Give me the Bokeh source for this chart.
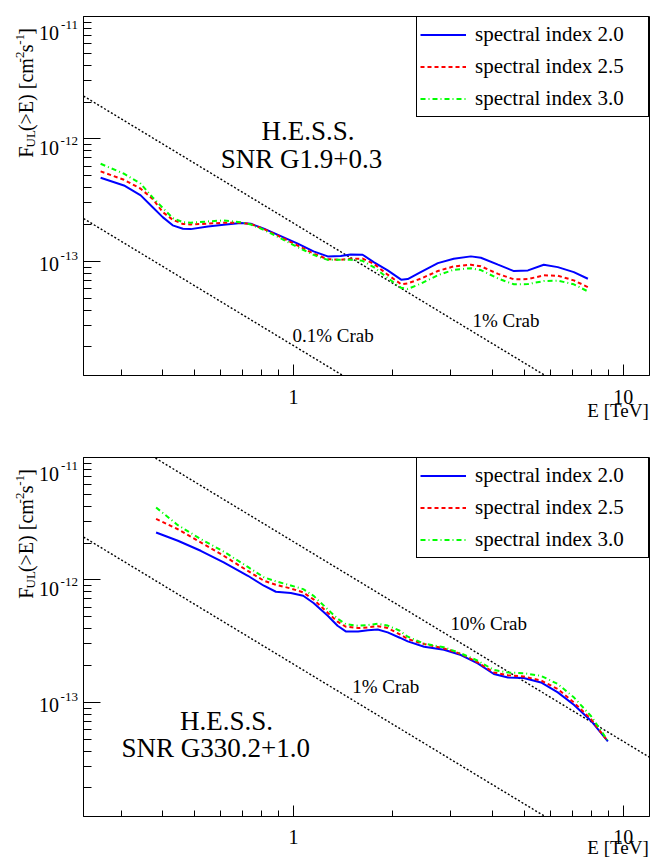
import math
from bokeh.plotting import figure
from bokeh.models import Label, Legend, LegendItem, FixedTicker, CustomJSTickFormatter, Range1d
from bokeh.layouts import column, row
from bokeh.embed import file_html
from bokeh.resources import INLINE

# ---------------- data ----------------
# Panel 1: SNR G1.9+0.3, energy threshold [TeV] and F_UL(>E) [cm^-2 s^-1]
g19_E = [0.260, 0.306, 0.344, 0.374, 0.401, 0.430, 0.462, 0.488, 0.550, 0.614,
         0.692, 0.742, 0.813, 0.915, 1.03, 1.15, 1.27, 1.39, 1.49, 1.62,
         1.75, 1.93, 2.12, 2.22, 2.43, 2.74, 3.06, 3.45, 3.70, 4.17,
         4.66, 5.14, 5.74, 6.33, 7.08, 7.81]
g19_idx20 = [4.82e-13, 4.17e-13, 3.46e-13, 2.77e-13, 2.30e-13, 1.97e-13, 1.85e-13, 1.835e-13, 1.93e-13, 1.99e-13,
             2.055e-13, 2.03e-13, 1.85e-13, 1.61e-13, 1.395e-13, 1.207e-13, 1.099e-13, 1.109e-13, 1.14e-13, 1.134e-13,
             9.87e-14, 8.44e-14, 7.09e-14, 7.17e-14, 8.18e-14, 9.68e-14, 1.052e-13, 1.099e-13, 1.072e-13, 9.40e-14,
             8.33e-14, 8.44e-14, 9.40e-14, 8.98e-14, 8.18e-14, 7.22e-14]
g19_idx25 = [5.43e-13, 4.64e-13, 3.92e-13, 3.24e-13, 2.53e-13, 2.19e-13, 2.02e-13, 2.005e-13, 2.035e-13, 2.07e-13,
             2.07e-13, 2.02e-13, 1.84e-13, 1.58e-13, 1.346e-13, 1.158e-13, 1.042e-13, 1.032e-13, 1.052e-13, 1.054e-13,
             9.58e-14, 7.79e-14, 6.51e-14, 6.61e-14, 7.22e-14, 8.35e-14, 9.10e-14, 9.40e-14, 9.12e-14, 7.91e-14,
             7.14e-14, 7.17e-14, 7.69e-14, 7.64e-14, 7.00e-14, 6.17e-14]
g19_idx30 = [6.27e-13, 5.20e-13, 4.31e-13, 3.33e-13, 2.74e-13, 2.26e-13, 2.09e-13, 2.07e-13, 2.12e-13, 2.16e-13,
             2.09e-13, 2.00e-13, 1.81e-13, 1.54e-13, 1.305e-13, 1.130e-13, 1.028e-13, 1.032e-13, 1.032e-13, 1.011e-13,
             9.00e-14, 7.32e-14, 6.08e-14, 5.96e-14, 6.58e-14, 7.72e-14, 8.54e-14, 8.80e-14, 8.49e-14, 7.25e-14,
             6.50e-14, 6.53e-14, 6.91e-14, 6.97e-14, 6.50e-14, 5.69e-14]

# Panel 2: SNR G330.2+1.0
g330_E = [0.383, 0.446, 0.523, 0.614, 0.727, 0.813, 0.884, 0.981, 1.07, 1.15,
          1.27, 1.36, 1.44, 1.57, 1.68, 1.80, 1.93, 2.10, 2.22, 2.49,
          2.86, 3.22, 3.62, 4.05, 4.47, 4.99, 5.63, 6.33, 7.08, 7.98, 8.98]
g330_idx20 = [2.443e-12, 2.089e-12, 1.731e-12, 1.389e-12, 1.082e-12, 8.97e-13, 8.01e-13, 7.82e-13, 7.43e-13, 6.48e-13,
              5.10e-13, 4.23e-13, 3.80e-13, 3.80e-13, 3.885e-13, 3.94e-13, 3.73e-13, 3.375e-13, 3.15e-13, 2.85e-13,
              2.69e-13, 2.437e-13, 2.08e-13, 1.706e-13, 1.60e-13, 1.582e-13, 1.456e-13, 1.207e-13, 9.58e-14, 7.09e-14, 4.80e-14]
g330_idx25 = [3.158e-12, 2.594e-12, 2.023e-12, 1.576e-12, 1.184e-12, 9.85e-13, 9.14e-13, 8.52e-13, 7.91e-13, 6.94e-13,
              5.40e-13, 4.56e-13, 4.15e-13, 4.05e-13, 4.095e-13, 4.195e-13, 4.05e-13, 3.60e-13, 3.293e-13, 2.997e-13,
              2.76e-13, 2.484e-13, 2.12e-13, 1.757e-13, 1.667e-13, 1.627e-13, 1.51e-13, 1.286e-13, 1.0e-13, 7.31e-14, 4.80e-14]
g330_idx30 = [3.906e-12, 2.801e-12, 2.158e-12, 1.705e-12, 1.277e-12, 1.052e-12, 9.74e-13, 9.02e-13, 8.41e-13, 7.42e-13,
              5.75e-13, 4.83e-13, 4.35e-13, 4.23e-13, 4.28e-13, 4.39e-13, 4.24e-13, 3.85e-13, 3.44e-13, 3.015e-13,
              2.82e-13, 2.51e-13, 2.19e-13, 1.842e-13, 1.754e-13, 1.731e-13, 1.648e-13, 1.413e-13, 1.10e-13, 7.74e-14, 4.87e-14]

# Crab reference lines (straight in log-log): end points
crab_E = [0.2, 15.0]
crab_10pct = [2.83e-11, 2.48e-14]
crab_1pct = [2.83e-12, 2.48e-15]
crab_01pct = [2.83e-13, 2.48e-16]

series_labels = ["spectral index 2.0", "spectral index 2.5", "spectral index 3.0"]
y_tick_values = [1e-11, 1e-12, 1e-13]
y_tick_exponents = ["-11", "-12", "-13"]
x_tick_values = [1, 10]
x_tick_labels = ["1", "10"]
x_minor_values = [0.3, 0.4, 0.5, 0.6, 0.7, 0.8, 0.9, 2, 3, 4, 5, 6, 7, 8, 9]
y_minor_values = [k * 10.0 ** e for e in (-14, -13, -12) for k in range(2, 10)]

# ---------------- layout / style ----------------
FONT = "Liberation Serif"
X_RANGE = (0.2307, 12.01)
Y_RANGE = (1.17e-14, 1e-11)
FRAME_L = 83            # frame left edge, page px
FRAME_W, FRAME_H = 566, 359
TOP_B, BOT_B, RIGHT_B = 16, 6, 16
LEFT_W = 80             # width of the strip holding the y labels
M_W = (FRAME_L - LEFT_W) + FRAME_W + RIGHT_B
ROW_H = TOP_B + FRAME_H + BOT_B
TOTAL_W = LEFT_W + M_W
LX0, LX1 = math.log10(X_RANGE[0]), math.log10(X_RANGE[1])
LY0, LY1 = math.log10(Y_RANGE[0]), math.log10(Y_RANGE[1])

STYLES = [dict(line_color="#0000ff", line_width=2),
          dict(line_color="#ff0000", line_width=2, line_dash="4 3"),
          dict(line_color="#00ff00", line_width=2, line_dash="5 3 1 3")]


def lab(fig, x, y, s, size, align="left", angle=0.0):
    fig.add_layout(Label(x=x, y=y, text=s, text_font=FONT, text_font_size=f"{size}px",
                         text_color="black", text_align=align, text_baseline="middle",
                         angle=angle))


def strip(width, height, x_range, x_type="linear"):
    f = figure(width=width, height=height, x_axis_type=x_type, x_range=x_range,
               y_range=Range1d(height, 0), min_border=0, title=None,
               x_axis_location=None, y_axis_location=None,
               output_backend="svg", toolbar_location=None,
               background_fill_color="white", border_fill_color="white")
    f.outline_line_color = None
    f.grid.visible = False
    return f


def make_main(row_top, E, ys, crab_sets, titles, crab_texts):
    p = figure(width=M_W, height=ROW_H, x_axis_type="log", y_axis_type="log",
               x_range=X_RANGE, y_range=Y_RANGE, title=None,
               output_backend="svg", toolbar_location=None,
               min_border_left=FRAME_L - LEFT_W, min_border_right=RIGHT_B,
               min_border_top=TOP_B, min_border_bottom=BOT_B,
               background_fill_color="white", border_fill_color="white")
    p.xgrid.visible = False
    p.ygrid.visible = False
    p.outline_line_color = "black"
    p.outline_line_width = 1
    p.outline_line_alpha = 1

    xa = p.xaxis[0]
    xa.ticker = FixedTicker(ticks=x_tick_values, minor_ticks=x_minor_values)
    xa.major_tick_in, xa.major_tick_out = 11, 0
    xa.minor_tick_in, xa.minor_tick_out = 6, 0
    ya = p.yaxis[0]
    ya.ticker = FixedTicker(ticks=y_tick_values, minor_ticks=y_minor_values)
    ya.major_tick_in, ya.major_tick_out = 17, 0
    ya.minor_tick_in, ya.minor_tick_out = 8, 0
    for ax in (xa, ya):
        ax.formatter = CustomJSTickFormatter(code="return '';")
        ax.major_label_text_font_size = "0px"
        ax.major_label_standoff = 0
        ax.axis_line_color = "black"
        ax.major_tick_line_color = "black"
        ax.minor_tick_line_color = "black"

    frame_top = row_top + TOP_B

    def at(px, py):
        fx = (px - FRAME_L) / FRAME_W
        fy = (py - frame_top) / FRAME_H
        return 10 ** (LX0 + fx * (LX1 - LX0)), 10 ** (LY1 - fy * (LY1 - LY0))

    for vals in crab_sets:
        p.line(crab_E, vals, line_color="black", line_width=1.4, line_dash="2 2")

    rends = [p.line(E, vals, **st) for vals, st in zip(ys, STYLES)]

    legend = Legend(items=[LegendItem(label=l, renderers=[r]) for l, r in zip(series_labels, rends)],
                    location="top_right", margin=0, padding=3, spacing=3,
                    label_height=29, glyph_height=29, glyph_width=46, label_standoff=9,
                    label_width=170, label_text_font=FONT, label_text_font_size="21px",
                    label_text_color="black",
                    border_line_color="black", border_line_width=1, border_line_alpha=1,
                    background_fill_color="white", background_fill_alpha=1)
    p.add_layout(legend)

    for s, px, py in titles:
        x, y = at(px, py)
        lab(p, x, y, s, 27, align="center")
    for s, px, py in crab_texts:
        x, y = at(px, py)
        lab(p, x, y, s, 19, align="left")
    return p


def make_left():
    f = strip(LEFT_W, ROW_H, Range1d(0, LEFT_W))
    # y tick labels 10^n
    for t, ex in zip(y_tick_values, y_tick_exponents):
        ty = TOP_B + (LY1 - math.log10(t)) / (LY1 - LY0) * FRAME_H
        lab(f, FRAME_L - 24.4, ty + 1.5, "10", 20, align="right")
        lab(f, FRAME_L - 5.6, ty - 6.7, ex, 13, align="right")
    # y axis title  F_UL(>E) [cm^-2 s^-1]
    mid_x = 25.1
    start_y = TOP_B + 134
    for s, size, off, shift in [("F", 20, 0.0, 0), ("UL", 13, 11.1, 4.5), ("(>E) [cm", 20, 28.4, 0),
                                ("-2", 13, 101.3, -5.8), ("s", 20, 112.1, 0), ("-1", 13, 119.9, -5.8),
                                ("]", 20, 130.7, 0)]:
        lab(f, mid_x + shift, start_y - off, s, size, angle=math.pi / 2)
    return f


def make_bottom(height, tick_mid, title_mid):
    dec = FRAME_W / (LX1 - LX0)
    xr = Range1d(10 ** (LX0 - FRAME_L / dec), 10 ** (LX1 + RIGHT_B / dec))
    f = strip(TOTAL_W, height, xr, x_type="log")
    for t, s in zip(x_tick_values, x_tick_labels):
        lab(f, t, tick_mid, s, 20, align="center")
    x_title = 10 ** (LX0 + (648.3 - FRAME_L) / dec)
    lab(f, x_title, title_mid, "E [TeV]", 19, align="right")
    return f


STRIP1_H = 60
ROW2_TOP = ROW_H + STRIP1_H
STRIP2_H = 859 - (ROW2_TOP + ROW_H)

m1 = make_main(0, g19_E, [g19_idx20, g19_idx25, g19_idx30],
               [crab_1pct, crab_01pct],
               [("H.E.S.S.", 307.5, 130.5), ("SNR G1.9+0.3", 301.0, 158.7)],
               [("0.1% Crab", 292.0, 334.5), ("1% Crab", 472.0, 319.7)])
m2 = make_main(ROW2_TOP, g330_E, [g330_idx20, g330_idx25, g330_idx30],
               [crab_10pct, crab_1pct],
               [("H.E.S.S.", 226.0, 720.5), ("SNR G330.2+1.0", 215.3, 747.0)],
               [("10% Crab", 450.0, 622.8), ("1% Crab", 351.7, 685.8)])

layout = column(row(make_left(), m1), make_bottom(STRIP1_H, 15, 29),
                row(make_left(), m2), make_bottom(STRIP2_H, 14, 25))
open("out.html", "w").write(file_html(layout, INLINE, title="H.E.S.S. SNR upper limits"))
